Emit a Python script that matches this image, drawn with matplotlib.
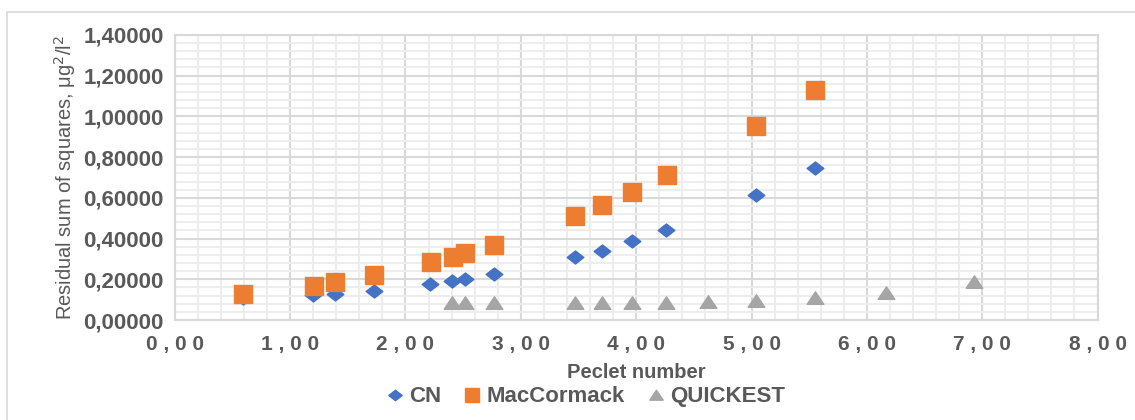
import matplotlib.pyplot as plt
from matplotlib.path import Path
from matplotlib.patches import Rectangle
from matplotlib.ticker import MultipleLocator, FuncFormatter

plt.rcParams['font.family'] = ['Liberation Sans', 'DejaVu Sans']

# Peclet number vs residual sum of squares
cn_x = [0.59, 1.20, 1.39, 1.73, 2.21, 2.40, 2.52, 2.77, 3.47, 3.70, 3.96, 4.26, 5.04, 5.55]
cn_y = [0.110, 0.123, 0.130, 0.143, 0.177, 0.190, 0.200, 0.225, 0.310, 0.340, 0.388, 0.442, 0.613, 0.747]

mac_x = [0.59, 1.21, 1.39, 1.73, 2.22, 2.41, 2.52, 2.77, 3.47, 3.70, 3.96, 4.27, 5.04, 5.55]
mac_y = [0.128, 0.167, 0.187, 0.221, 0.285, 0.310, 0.330, 0.368, 0.510, 0.565, 0.630, 0.712, 0.953, 1.130]

qk_x = [2.40, 2.52, 2.77, 3.47, 3.70, 3.96, 4.26, 4.62, 5.04, 5.55, 6.17, 6.93]
qk_y = [0.083, 0.083, 0.083, 0.083, 0.083, 0.083, 0.084, 0.088, 0.093, 0.108, 0.133, 0.185]

BLUE = "#4472C4"
ORANGE = "#ED7D31"
GRAY = "#A5A5A5"
TXT = "#595959"

diamond = Path([(-1, 0), (0, 0.78), (1, 0), (0, -0.78), (-1, 0)],
               [Path.MOVETO, Path.LINETO, Path.LINETO, Path.LINETO, Path.CLOSEPOLY])
triangle = Path([(-1, -0.7), (0, 0.8), (1, -0.7), (-1, -0.7)],
                [Path.MOVETO, Path.LINETO, Path.LINETO, Path.CLOSEPOLY])

fig = plt.figure(figsize=(11.35, 4.2), dpi=100)
ax = fig.add_axes([0.154, 0.238, 0.813, 0.679])

fig.patches.append(Rectangle((0.006, -0.05), 1.2, 1.022, transform=fig.transFigure,
                             fill=False, edgecolor="#D9D9D9", linewidth=1.2))

ax.plot(cn_x, cn_y, linestyle="none", marker=diamond, markersize=12,
        color=BLUE, label="CN", zorder=3)
ax.plot(mac_x, mac_y, linestyle="none", marker="s", markersize=13,
        color=ORANGE, label="MacCormack", zorder=3)
ax.plot(qk_x, qk_y, linestyle="none", marker=triangle, markersize=12,
        color=GRAY, label="QUICKEST", zorder=3)

ax.set_xlim(0, 8)
ax.set_ylim(0, 1.4)
ax.xaxis.set_major_locator(MultipleLocator(1))
ax.xaxis.set_minor_locator(MultipleLocator(0.2))
ax.yaxis.set_major_locator(MultipleLocator(0.2))
ax.yaxis.set_minor_locator(MultipleLocator(0.04))

ax.xaxis.set_major_formatter(FuncFormatter(lambda v, p: " ".join(f"{v:.2f}".replace(".", ","))))
ax.yaxis.set_major_formatter(FuncFormatter(lambda v, p: f"{v:.5f}".replace(".", ",")))

ax.grid(which="major", color="#D9D9D9", linewidth=1.5)
ax.grid(which="minor", color="#EDEDED", linewidth=1.5)
ax.set_axisbelow(True)
for s in ax.spines.values():
    s.set_color("#D9D9D9")
    s.set_linewidth(1.5)

ax.tick_params(which="both", length=0)
ax.tick_params(axis="y", labelsize=16, labelcolor=TXT, pad=8)
ax.tick_params(axis="x", labelsize=15, labelcolor=TXT, pad=11)
for lab in ax.get_xticklabels() + ax.get_yticklabels():
    lab.set_fontweight("bold")

ax.set_xlabel("Peclet number", fontsize=14.5, fontweight="bold", color=TXT, labelpad=6)
ax.set_ylabel("Residual sum of squares, μg$^2$/l$^2$", fontsize=14.5, color=TXT, labelpad=4)

fig.legend(loc="center", bbox_to_anchor=(0.514, 0.055), ncol=3, frameon=False,
           prop={"size": 16, "weight": "bold"}, labelcolor=TXT,
           handletextpad=0.05, columnspacing=0.8, handlelength=1.2, markerscale=0.8)

fig.savefig("out.png", dpi=100)
